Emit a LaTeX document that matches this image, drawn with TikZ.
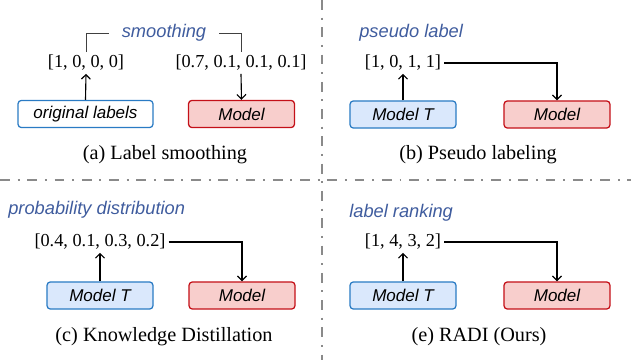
\documentclass[tikz,border=0pt]{standalone}
\usepackage{fontspec}
\setmainfont{Liberation Serif}
\setsansfont{Liberation Sans}
\usetikzlibrary{arrows.meta}
\definecolor{lblblue}{HTML}{3F5C9E}
\definecolor{tborder}{HTML}{2A7BC4}
\definecolor{tfill}{HTML}{DAE8FC}
\definecolor{sborder}{HTML}{C41018}
\definecolor{sfill}{HTML}{F8CECC}
\definecolor{divgray}{HTML}{8A8A8A}
\tikzset{
	teacher/.style={draw=tborder, fill=tfill, line width=0.9pt, rounded corners=2.5pt,
		minimum width=2.65cm, minimum height=0.68cm, inner sep=0pt,
		font=\fontsize{12.1}{14}\sffamily\itshape},
	student/.style={teacher, draw=sborder, fill=sfill},
	vec/.style={inner sep=2pt, font=\fontsize{13}{15}\selectfont},
	kind/.style={text=lblblue, inner sep=0pt, font=\fontsize{13}{15}\sffamily\itshape},
	caption/.style={inner sep=0pt, font=\fontsize{14.4}{17}\selectfont},
	flow/.style={-{Straight Barb[length=3.2pt,width=6.4pt]}, line width=0.8pt},
	divider/.style={draw=divgray, line width=1.1pt, dash pattern=on 7pt off 5.5pt on 1.4pt off 5.5pt}
}

\begin{document}
\begin{tikzpicture}[x=0.025cm, y=-0.025cm]
\useasboundingbox (0,0) rectangle (631,360);

% First the two dividers
\coordinate (vtop) at (322,0);
\coordinate (vbot) at (322,360);
\coordinate (hleft) at (0,180);
\coordinate (hright) at (631,180);
\draw[divider] (vtop) -- (vbot);
\draw[divider] (hleft) -- (hright);

% (a) label smoothing
\node[kind, inner xsep=13pt*0.7113] (smooth) at (164,33) {smoothing};
\node[vec] (hardvec) at (86,63) {[1, 0, 0, 0]};
\node[vec] (softvec) at (241,63) {[0.7, 0.1, 0.1, 0.1]};
\node[teacher, fill=white, minimum width=3.375cm] (orig) at (85.5,114) {original labels};
\node[student] (modela) at (241.5,114) {Model};
\draw[line width=0.6pt, black!75] (hardvec.north) |- (smooth.west);
\draw[line width=0.6pt, black!75] (smooth.east) -| (softvec.north);
\draw[flow] (orig.north) -- (hardvec.south);
\draw[flow] (softvec.south) -- (modela.north);
\node[caption] (capa) at (165,155) {(a) Label smoothing};

% (b) pseudo labeling
\node[kind, anchor=west] (pseudo) at (359,33) {pseudo label};
\node[vec] (pseudovec) at (403,63) {[1, 0, 1, 1]};
\node[teacher] (teachb) at (403,114.5) {Model T};
\node[student] (modelb) at (557,114.5) {Model};
\draw[flow] (teachb.north) -- (pseudovec.south);
\draw[flow] (pseudovec.east) -| (modelb.north);
\node[caption] (capb) at (478,155) {(b) Pseudo labeling};

% (c) knowledge distillation
\node[kind, anchor=west] (prob) at (8,210) {probability distribution};
\node[vec] (probvec) at (100,242) {[0.4, 0.1, 0.3, 0.2]};
\node[teacher] (teachc) at (100,295.5) {Model T};
\node[student] (modelc) at (242,295.5) {Model};
\draw[flow] (teachc.north) -- (probvec.south);
\draw[flow] (probvec.east) -| (modelc.north);
\node[caption] (capc) at (164,337) {(c) Knowledge Distillation};

% (e) ours
\node[kind, anchor=west] (rank) at (349,213) {label ranking};
\node[vec] (rankvec) at (403,242) {[1, 4, 3, 2]};
\node[teacher] (teache) at (403,295.5) {Model T};
\node[student] (modele) at (557,295.5) {Model};
\draw[flow] (teache.north) -- (rankvec.south);
\draw[flow] (rankvec.east) -| (modele.north);
\node[caption] (cape) at (479,337) {(e) RADI (Ours)};
\end{tikzpicture}
\end{document}
